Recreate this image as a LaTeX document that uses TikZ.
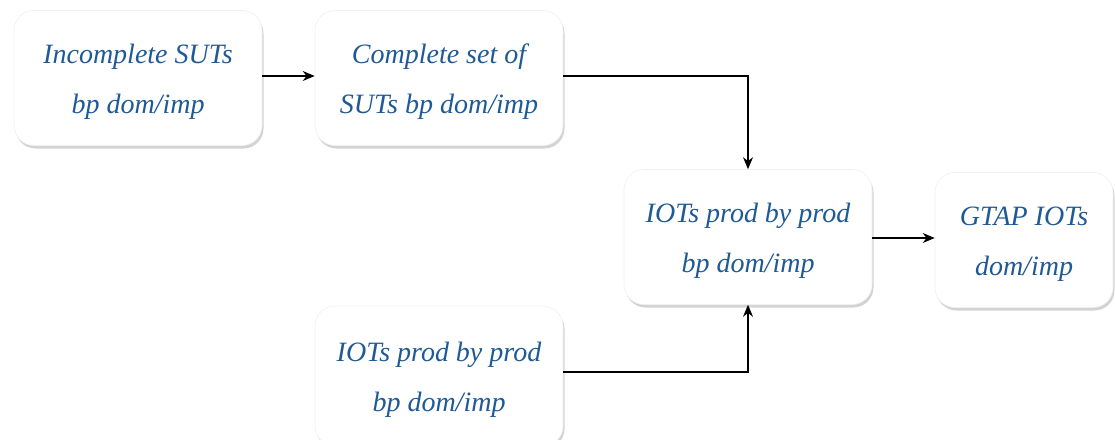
\documentclass[tikz,border=0pt]{standalone}
\usepackage{fontspec}
\newfontfamily\tms{Liberation Serif}
\usetikzlibrary{shadows,arrows.meta}
\definecolor{txtblue}{HTML}{1F5A96}
\newcommand\twolines[2]{\raisebox{-4pt}{\begin{tabular}{@{}c@{}}#1\\#2\end{tabular}}}
\tikzset{
  box/.style={draw=gray!12, fill=white, rounded corners=20pt, line width=0.6pt,
    minimum width=248pt, minimum height=135pt, align=center, inner sep=0pt,
    text=txtblue, font=\tms\itshape\fontsize{28}{50}\selectfont,
    drop shadow={opacity=0.35, shadow xshift=1.5pt, shadow yshift=-3pt}},
  arr/.style={-{Stealth[length=12pt,width=10pt]}, line width=1.4pt, black}
}
\begin{document}
\begin{tikzpicture}[x=1pt,y=-1pt]
\useasboundingbox (0,0) rectangle (1115,439);
\node[box] (a) at (138,78) {\twolines{Incomplete SUTs}{bp dom/imp}};
\node[box] (b) at (439,78) {\twolines{Complete set of}{SUTs bp dom/imp}};
\node[box] (c) at (748,237) {\twolines{IOTs prod by prod}{bp dom/imp}};
\node[box, minimum width=178pt] (d) at (1024,240) {\twolines{GTAP IOTs}{dom/imp}};
\node[box, minimum height=140pt] (e) at (439,376) {\twolines{IOTs prod by prod}{bp dom/imp}};
\draw[arr] (a.east |- 0,76) -- (b.west |- 0,76);
\draw[arr] (b.east |- 0,76) -| (c.north);
\draw[arr] (c.east |- 0,238) -- (d.west |- 0,238);
\draw[arr] (e.east |- 0,372) -| (c.south);
\end{tikzpicture}
\end{document}
